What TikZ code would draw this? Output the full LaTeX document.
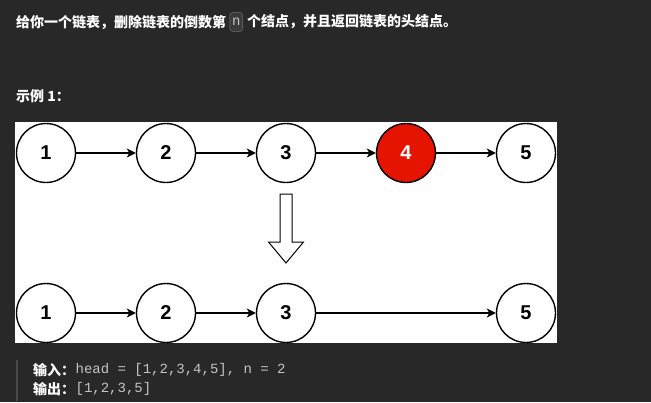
\documentclass[tikz,border=0pt]{standalone}
\usepackage{fontspec}
\setmainfont{Liberation Sans}
\setmonofont{Liberation Mono}
\newfontfamily\cjkfont{Noto Sans CJK SC}
\usetikzlibrary{arrows.meta,positioning}
\definecolor{pagebg}{HTML}{282828}
\definecolor{codegray}{HTML}{C4C4C4}
\definecolor{inlinebg}{HTML}{3B3B3B}
\definecolor{inlineborder}{HTML}{595959}
\definecolor{barcolor}{HTML}{4A4A4A}
\definecolor{removedred}{HTML}{E51400}
\tikzset{
  listnode/.style={draw,circle,line width=1.4pt,fill=white,minimum size=59pt,inner sep=0,
    font=\fontsize{20}{24}\selectfont\bfseries},
  removed/.style={listnode,fill=removedred,text=white},
  link/.style={line width=1.2pt,-{Stealth[length=9pt,width=9pt,inset=2.5pt]}},
  prose/.style={anchor=west,inner sep=0,text=white,font=\fontsize{14}{16}\selectfont\cjkfont\bfseries},
  codetext/.style={anchor=west,inner sep=0,text=codegray,font=\fontsize{14}{16}\selectfont\ttfamily},
  inlinecode/.style={draw=inlineborder,fill=inlinebg,rounded corners=3pt,line width=0.8pt,
    inner xsep=2.2pt,minimum height=19pt,text=codegray,font=\fontsize{14}{16}\selectfont\ttfamily}
}
\begin{document}
\begin{tikzpicture}[x=1pt,y=-1pt]
  % page background and white panel
  \fill[pagebg] (0,0) rectangle (651,402);
  \useasboundingbox (0,0) rectangle (651,402);
  \fill[white] (15,122) rectangle (557,343);
  % question text
  \node[prose] (q1) at (16,22) {给你一个链表，删除链表的倒数第};
  \node[inlinecode,right=3pt of q1] (qn) {n};
  \node[prose,right=4pt of qn] (q2) {个结点，并且返回链表的头结点。};
  \node[prose] (ex) at (16,96) {示例 1：};
  % list before removal
  \node[listnode] (a1) at (46,153) {1};
  \node[listnode] (a2) at (166,153) {2};
  \node[listnode] (a3) at (286,153) {3};
  \node[removed] (a4) at (406,153) {4};
  \node[listnode] (a5) at (526,153) {5};
  \draw[link] (a1) -- (a2);
  \draw[link] (a2) -- (a3);
  \draw[link] (a3) -- (a4);
  \draw[link] (a4) -- (a5);
  % block arrow
  \draw[line width=1pt,fill=white] (280,194) -- (292,194) -- (292,242) -- (303.5,242)
    -- (286,263) -- (268.5,242) -- (280,242) -- cycle;
  % list after removal
  \node[listnode] (b1) at (46,313) {1};
  \node[listnode] (b2) at (166,313) {2};
  \node[listnode] (b3) at (286,313) {3};
  \node[listnode] (b5) at (526,313) {5};
  \draw[link] (b1) -- (b2);
  \draw[link] (b2) -- (b3);
  \draw[link] (b3) -- (b5);
  % example input and output
  \draw[barcolor,line width=2pt] (16.5,360) -- (16.5,401);
  \node[prose] (inlbl) at (33,370) {输入：};
  \node[codetext,right=0pt of inlbl] (inval) {head = [1,2,3,4,5], n = 2};
  \node[prose] (outlbl) at (33,389) {输出：};
  \node[codetext,right=0pt of outlbl] (outval) {[1,2,3,5]};
\end{tikzpicture}
\end{document}
